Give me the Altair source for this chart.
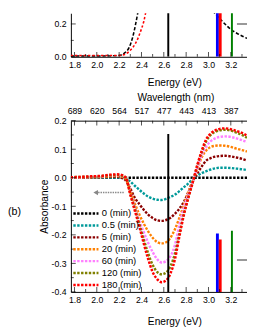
import altair as alt
import pandas as pd

# ---------------- data ----------------
energy = [1.765, 1.85, 1.95, 2.05, 2.12, 2.18, 2.22, 2.26, 2.30, 2.34, 2.38, 2.42,
          2.46, 2.50, 2.54, 2.58, 2.62, 2.66, 2.70, 2.74, 2.78, 2.82, 2.86, 2.90,
          2.94, 2.98, 3.02, 3.06, 3.10, 3.15, 3.20, 3.25, 3.30, 3.345]

series_names = ["0 (min)", "0.5 (min)", "5 (min)", "20 (min)", "60 (min)", "120 (min)", "180 (min)"]
series_colors = ["#000000", "#009a9a", "#8b0000", "#ff8000", "#ff80ff", "#808000", "#ff0000"]

abs_0 = [0.0, 0.0, 0.0, 0.0, 0.0, 0.0, 0.0, 0.0, 0.0, 0.0, 0.0, 0.0,
         0.0, 0.0, 0.0, 0.0, 0.0, 0.0, 0.0, 0.0, 0.0, 0.0, 0.0, 0.0,
         0.0, 0.0, 0.0, 0.0, 0.0, 0.0, 0.0, 0.0, 0.0, 0.0]
abs_05 = [0.0, 0.0, 0.0, 0.0, 0.001, 0.001, 0.0, -0.004, -0.013, -0.028, -0.042, -0.055,
          -0.066, -0.073, -0.077, -0.078, -0.074, -0.067, -0.059, -0.047, -0.033, -0.020, -0.004, 0.007,
          0.016, 0.023, 0.029, 0.033, 0.035, 0.035, 0.034, 0.032, 0.030, 0.027]
abs_5 = [0.0, 0.0, 0.001, 0.002, 0.003, 0.003, 0.0, -0.010, -0.038, -0.070, -0.092, -0.112,
         -0.129, -0.141, -0.149, -0.151, -0.148, -0.140, -0.126, -0.108, -0.084, -0.050, -0.012, 0.015,
         0.040, 0.060, 0.069, 0.074, 0.076, 0.077, 0.075, 0.071, 0.066, 0.060]
abs_20 = [0.0, 0.001, 0.002, 0.003, 0.005, 0.006, 0.004, -0.005, -0.045, -0.090, -0.128, -0.160,
          -0.188, -0.210, -0.225, -0.230, -0.226, -0.210, -0.180, -0.140, -0.095, -0.050, -0.010, 0.030,
          0.072, 0.096, 0.108, 0.112, 0.113, 0.112, 0.108, 0.102, 0.097, 0.092]
abs_60 = [0.001, 0.002, 0.003, 0.005, 0.008, 0.009, 0.007, 0.0, -0.050, -0.100, -0.150, -0.190,
          -0.228, -0.260, -0.285, -0.297, -0.292, -0.275, -0.235, -0.165, -0.105, -0.058, -0.012, 0.035,
          0.080, 0.110, 0.128, 0.138, 0.143, 0.145, 0.143, 0.138, 0.132, 0.125]
abs_120 = [0.002, 0.003, 0.004, 0.006, 0.009, 0.010, 0.008, 0.0, -0.055, -0.107, -0.160, -0.215,
           -0.265, -0.305, -0.330, -0.338, -0.332, -0.310, -0.265, -0.195, -0.125, -0.068, -0.015, 0.042,
           0.090, 0.128, 0.150, 0.161, 0.166, 0.168, 0.165, 0.158, 0.150, 0.140]
abs_180 = [0.002, 0.003, 0.005, 0.007, 0.011, 0.012, 0.010, 0.0, -0.060, -0.115, -0.170, -0.230,
           -0.285, -0.330, -0.355, -0.366, -0.360, -0.335, -0.285, -0.205, -0.130, -0.070, -0.015, 0.045,
           0.095, 0.135, 0.155, 0.166, 0.171, 0.173, 0.170, 0.164, 0.157, 0.148]
series_values = [abs_0, abs_05, abs_5, abs_20, abs_60, abs_120, abs_180]

# top panel (a): absorbance spectra
top_black_energy = [1.765, 1.9, 2.0, 2.1, 2.2, 2.25, 2.29, 2.32, 2.363, 2.40, 2.50, 2.70,
                    2.90, 3.00, 3.05, 3.10, 3.15, 3.20, 3.25, 3.30, 3.345]
top_black_abs = [0.004, 0.004, 0.004, 0.005, 0.008, 0.024, 0.057, 0.116, 0.253, 0.40, 0.60, 0.75,
                 0.50, 0.32, 0.27, 0.233, 0.198, 0.167, 0.145, 0.127, 0.112]
top_red_energy = [1.765, 1.9, 2.0, 2.1, 2.2, 2.25, 2.30, 2.35, 2.40, 2.42, 2.45, 2.55,
                  2.80, 3.10, 3.20, 3.26, 3.30, 3.345]
top_red_abs = [0.008, 0.008, 0.008, 0.008, 0.008, 0.014, 0.040, 0.086, 0.170, 0.213, 0.31, 0.55,
               0.70, 0.45, 0.36, 0.31, 0.29, 0.272]

# vertical reference lines
bar_energy = [2.64, 3.08, 3.105, 3.21]
bar_colors = ["#000000", "#0000ff", "#ff0000", "#008000"]
bar_widths = [2, 3, 3, 2]
bar_top_a = [1.0, 1.0, 1.0, 1.0]
bar_top_b = [0.153, -0.195, -0.216, -0.186]

# small grey marks at right edge
grey_a = [3.255, 3.345, 0.2]
grey_b = [3.255, 3.345, -0.288]

# arrow (bottom panel)
arrow_energy = [1.99, 2.25]
arrow_abs = [-0.052, -0.052]

# ticks
energy_ticks = [1.8, 2.0, 2.2, 2.4, 2.6, 2.8, 3.0, 3.2]
energy_minor = [1.9, 2.1, 2.3, 2.5, 2.7, 2.9, 3.1, 3.3]
wavelength_labels = ["689", "620", "564", "517", "477", "443", "413", "387"]
abs_ticks_b = [-0.4, -0.3, -0.2, -0.1, 0.0, 0.1, 0.2]
abs_minor_b = [-0.35, -0.25, -0.15, -0.05, 0.05, 0.15]
abs_ticks_a = [0.0, 0.2]
abs_minor_a = [0.1]

# ---------------- settings ----------------
FONT = "Liberation Sans"
X_MIN, X_MAX = 1.768, 3.345
W, H_TOP, H_BOT = 182, 45, 177
xs = alt.Scale(domain=[X_MIN, X_MAX], nice=False, zero=False)
ys_a = alt.Scale(domain=[0, 0.265], nice=False, zero=False)
ys_b = alt.Scale(domain=[-0.4, 0.2], nice=False, zero=False)


def lookup_expr(vals, labels):
    expr = "''"
    for v, l in reversed(list(zip(vals, labels))):
        expr = f"abs(datum.value - {v}) < 0.001 ? '{l}' : ({expr})"
    return expr


common_axis = dict(ticks=False, grid=False, labelFontSize=9, titleFontSize=10.5,
                   domainColor="black", domainWidth=1, labelColor="black",
                   titleColor="black", titleFontWeight="normal", labelFlush=False,
                   labelFont=FONT, titleFont=FONT)

x_axis_a = alt.Axis(orient="bottom", values=energy_ticks, format=".1f", title="Energy (eV)", titleX=107,
                    labelPadding=4, titlePadding=9, **common_axis)
x_axis_b = alt.Axis(orient="bottom", values=energy_ticks, format=".1f", title="Energy (eV)", titleX=107,
                    labelPadding=4, titlePadding=13, **common_axis)
x_axis_top = alt.Axis(orient="top", values=energy_ticks, labelExpr=lookup_expr(energy_ticks, wavelength_labels),
                      title="Wavelength (nm)", titleX=108, labelPadding=5, titlePadding=5, **common_axis)
minus_fix = "replace(format(datum.value, '.1f'), '\u2212', '-')"
y_axis_a = alt.Axis(orient="left", values=abs_ticks_a, labelExpr=minus_fix, title=None, labelPadding=5,
                    **common_axis)
y_axis_b = alt.Axis(orient="left", values=abs_ticks_b, labelExpr=minus_fix, title="Absorbance",
                    labelPadding=5, titlePadding=2, **common_axis)


def x_ticks(vals, y_val, ys, length, up, axis=None):
    return alt.Chart(pd.DataFrame({"E": vals})).mark_tick(
        orient="vertical", size=length, thickness=1, color="black",
        yOffset=(-length / 2 if up else length / 2)
    ).encode(x=alt.X("E:Q", scale=xs, axis=axis), y=alt.YDatum(y_val, scale=ys, axis=None))


def y_ticks(vals, ys, length):
    return alt.Chart(pd.DataFrame({"A": vals})).mark_tick(
        orient="horizontal", size=length, thickness=1, color="black", xOffset=length / 2
    ).encode(x=alt.XDatum(X_MIN, scale=xs, axis=None), y=alt.Y("A:Q", scale=ys, axis=None))


def bars(tops, bottom, ys):
    layers = []
    for e, t, c, w in zip(bar_energy, tops, bar_colors, bar_widths):
        layers.append(
            alt.Chart(pd.DataFrame({"E": [e], "top": [t]})).mark_rule(color=c, strokeWidth=w, clip=True)
            .encode(x=alt.X("E:Q", scale=xs, axis=None), y=alt.Y("top:Q", scale=ys, axis=None),
                    y2=alt.Y2Datum(bottom))
        )
    return layers


def grey_mark(g, ys):
    return alt.Chart(pd.DataFrame({"x1": [g[0]], "x2": [g[1]], "y": [g[2]]})).mark_rule(
        color="#999999", strokeWidth=2, clip=True
    ).encode(x=alt.X("x1:Q", scale=xs, axis=None), x2="x2:Q", y=alt.Y("y:Q", scale=ys, axis=None))


# ---------------- top panel ----------------
top_black = alt.Chart(pd.DataFrame({"E": top_black_energy, "A": top_black_abs})).mark_line(
    color="black", strokeDash=[3.5, 2], strokeWidth=1.6, clip=True, interpolate="monotone"
).encode(x=alt.X("E:Q", scale=xs, axis=x_axis_a), y=alt.Y("A:Q", scale=ys_a, axis=y_axis_a))
top_red = alt.Chart(pd.DataFrame({"E": top_red_energy, "A": top_red_abs})).mark_line(
    color="#ff0000", strokeDash=[2.5, 2], strokeWidth=1.6, clip=True, interpolate="monotone"
).encode(x=alt.X("E:Q", scale=xs, axis=None), y=alt.Y("A:Q", scale=ys_a, axis=None))

spacer = alt.Chart(pd.DataFrame({"t": ["(b)"]})).mark_text(
    align="left", baseline="middle", fontSize=11, font=FONT, opacity=0
).encode(text="t:N", x=alt.value(-65), y=alt.value(20))

top = alt.layer(
    top_black, top_red, *bars(bar_top_a, 0, ys_a), grey_mark(grey_a, ys_a),
    x_ticks(energy_ticks, 0, ys_a, 5, True), x_ticks(energy_minor, 0, ys_a, 3, True),
    y_ticks(abs_ticks_a, ys_a, 5), y_ticks(abs_minor_a, ys_a, 3), spacer
).resolve_axis(x="independent", y="independent").properties(width=W, height=H_TOP)

# ---------------- bottom panel ----------------
rows = []
for name, vals in zip(series_names, series_values):
    for e, a in zip(energy, vals):
        rows.append({"E": e, "A": a, "series": name})
df_b = pd.DataFrame(rows)

curves = alt.Chart(df_b).mark_line(
    strokeDash=[2.5, 1.5], strokeWidth=2.5, clip=True, interpolate="monotone"
).encode(
    x=alt.X("E:Q", scale=xs, axis=x_axis_b),
    y=alt.Y("A:Q", scale=ys_b, axis=y_axis_b),
    color=alt.Color("series:N", scale=alt.Scale(domain=series_names, range=series_colors),
                    sort=series_names,
                    legend=alt.Legend(title=None, orient="none", legendX=1, legendY=202,
                                      symbolType="stroke", symbolSize=676, symbolStrokeWidth=2.5,
                                      symbolDash=[2.5, 1.5], labelFontSize=9.7, labelFont=FONT,
                                      labelColor="black", labelOffset=2, clipHeight=10,
                                      rowPadding=2.3, padding=0)),
)

df_arrow = pd.DataFrame({"E": arrow_energy, "A": arrow_abs})
arrow_line = alt.Chart(df_arrow).mark_line(color="#888888", strokeDash=[1.5, 1], strokeWidth=1.5).encode(
    x=alt.X("E:Q", scale=xs, axis=None), y=alt.Y("A:Q", scale=ys_b, axis=None))
arrow_head = alt.Chart(df_arrow.iloc[[0]]).mark_point(
    shape="triangle-left", filled=True, size=30, color="#888888", opacity=1
).encode(x=alt.X("E:Q", scale=xs, axis=None), y=alt.Y("A:Q", scale=ys_b, axis=None))

label_b = alt.Chart(pd.DataFrame({"t": ["(b)"]})).mark_text(
    align="left", baseline="middle", fontSize=11, font=FONT, color="black"
).encode(text="t:N", x=alt.value(-65), y=alt.value(95))

bottom = alt.layer(
    curves, *bars(bar_top_b, -0.4, ys_b), arrow_line, arrow_head, grey_mark(grey_b, ys_b),
    x_ticks(energy_ticks, -0.4, ys_b, 5, True), x_ticks(energy_minor, -0.4, ys_b, 3, True),
    x_ticks(energy_ticks, 0.2, ys_b, 5, False, axis=x_axis_top), x_ticks(energy_minor, 0.2, ys_b, 3, False),
    y_ticks(abs_ticks_b, ys_b, 5), y_ticks(abs_minor_b, ys_b, 3), label_b
).resolve_axis(x="independent", y="independent").properties(width=W, height=H_BOT)

chart = alt.vconcat(top, bottom, spacing=4).configure_view(stroke=None).properties(
    padding={"left": 0, "top": 0, "right": 0, "bottom": 0}, background="white"
)

chart.save("out.html", embed_options={"renderer": "svg", "actions": False})
